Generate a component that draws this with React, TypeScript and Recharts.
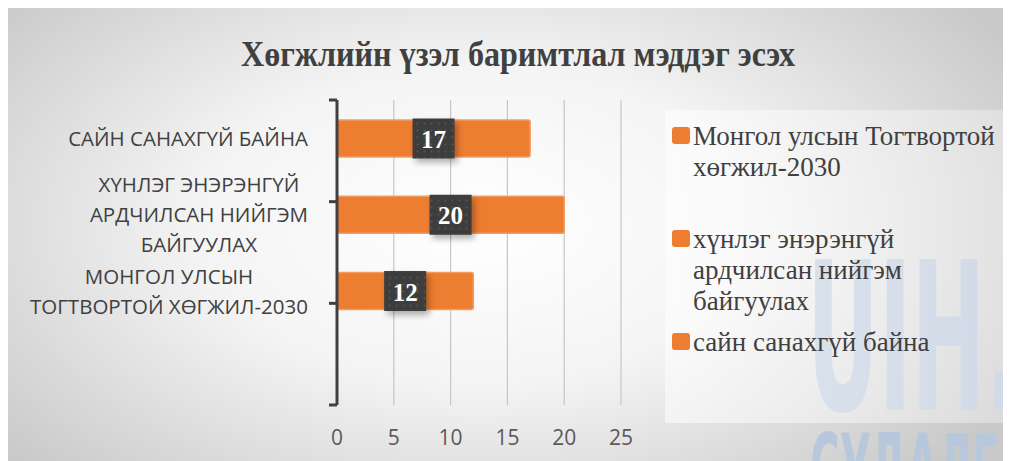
import { BarChart, Bar, XAxis, YAxis, CartesianGrid, LabelList, Legend } from 'recharts';

// ─── Data ───────────────────────────────────────────────────────────
const categories = [
  'САЙН САНАХГҮЙ БАЙНА',
  'ХҮНЛЭГ ЭНЭРЭНГҮЙ АРДЧИЛСАН НИЙГЭМ БАЙГУУЛАХ',
  'МОНГОЛ УЛСЫН ТОГТВОРТОЙ ХӨГЖИЛ-2030',
  ' ',
];
const categoryLines = [
  ['САЙН САНАХГҮЙ БАЙНА'],
  ['ХҮНЛЭГ ЭНЭРЭНГҮЙ', 'АРДЧИЛСАН НИЙГЭМ', 'БАЙГУУЛАХ'],
  ['МОНГОЛ УЛСЫН', 'ТОГТВОРТОЙ ХӨГЖИЛ-2030'],
  [],
];
const values: (number | null)[] = [17, 20, 12, null];
const legendLines = [
  ['Монгол улсын Тогтвортой', 'хөгжил-2030'],
  ['хүнлэг энэрэнгүй', 'ардчилсан нийгэм', 'байгуулах'],
  ['сайн санахгүй байна'],
];
const xTicks = [0, 5, 10, 15, 20, 25];
const edgeTicks = [0, 1, 2, 3, 4];

const data = categories.map((name, i) => ({ name, value: values[i] }));

const ORANGE = '#ED7D31';
const DARK = '#404040';
const SANS = '"Open Sans", sans-serif';
const SERIF = '"Liberation Serif", "Times New Roman", serif';
const LABEL_SIZE = 20.5;

let measureCtx: CanvasRenderingContext2D | null = null;
function textWidth(s: string, font: string) {
  if (!measureCtx) measureCtx = document.createElement('canvas').getContext('2d');
  if (!measureCtx) return s.length * 10;
  measureCtx.font = font;
  return measureCtx.measureText(s).width;
}

// ─── Axis ticks ─────────────────────────────────────────────────────
function CategoryTick(props: any) {
  const { x, y, payload } = props;
  const idx = categories.indexOf(payload.value);
  const lines = categoryLines[idx] ?? [];
  if (!lines.length) return null;
  const font = `${LABEL_SIZE}px ${SANS}`;
  const maxW = Math.max(...lines.map((l) => textWidth(l, font)));
  const cx = x - maxW / 2;
  const lh = 30;
  const top = y - ((lines.length - 1) * lh) / 2;
  return (
    <text fill={DARK} fontSize={LABEL_SIZE} fontFamily={SANS} textAnchor="middle">
      {lines.map((l, i) => (
        <tspan key={i} x={cx} y={top + i * lh} dominantBaseline="central">
          {l}
        </tspan>
      ))}
    </text>
  );
}

function ValueTick(props: any) {
  const { x, y, payload } = props;
  return (
    <text x={x} y={y + 32} fill="#595959" fontSize={21} fontFamily={SANS} textAnchor="middle" dominantBaseline="central">
      {payload.value}
    </text>
  );
}

// tick marks only, no text
const NoLabel = () => <g />;

// ─── Data label badge ───────────────────────────────────────────────
function ValueBadge(props: any) {
  const { x, y, width, height, value } = props;
  if (value == null) return null;
  const cx = Number(x) + Number(width) / 2;
  const cy = Number(y) + Number(height) / 2;
  const w = 42;
  const h = 40;
  return (
    <g>
      <rect x={cx - w / 2 + 3} y={cy - h / 2 + 4} width={w} height={h} fill="#000" opacity={0.3} filter="url(#badgeBlur)" />
      <rect x={cx - w / 2} y={cy - h / 2} width={w} height={h} fill="url(#badgeDots)" />
      <text x={cx} y={cy + 1} fill="#fff" fontSize={25} fontWeight="bold" fontFamily={SERIF} textAnchor="middle" dominantBaseline="central">
        {value}
      </text>
    </g>
  );
}

// ─── Legend ─────────────────────────────────────────────────────────
function LegendBox() {
  return (
    <div
      style={{
        width: 346,
        height: 313,
        position: 'relative',
        background: 'linear-gradient(90deg, rgba(255,255,255,0.55), rgba(245,245,245,0.4))',
        fontFamily: SERIF,
        fontSize: 27,
        color: DARK,
      }}
    >
      {legendLines.map((lines, i) => (
        <div key={i} style={{ position: 'absolute', left: 7, top: 11 + i * 103, display: 'flex' }}>
          <div style={{ width: 18, height: 17, marginTop: 6, background: ORANGE, borderRadius: 3, flexShrink: 0 }} />
          <div style={{ marginLeft: 3, lineHeight: '31px', whiteSpace: 'nowrap' }}>
            {lines.map((l) => (
              <div key={l}>{l}</div>
            ))}
          </div>
        </div>
      ))}
    </div>
  );
}

// ─── Component ──────────────────────────────────────────────────────
export default function App() {
  return (
    <div
      style={{
        position: 'relative',
        width: 1003,
        height: 453,
        background: 'radial-gradient(ellipse 62% 78% at 47% 48%, #ffffff 0%, #f4f4f4 45%, #c9c9c9 100%)',
        overflow: 'hidden',
      }}
    >
      {/* watermark + shared defs */}
      <svg width={1003} height={453} style={{ position: 'absolute', left: 0, top: 0 }}>
        <defs>
          <filter id="badgeBlur" x="-30%" y="-30%" width="160%" height="160%">
            <feGaussianBlur stdDeviation="3" />
          </filter>
          <pattern id="badgeDots" width="7" height="7" patternUnits="userSpaceOnUse">
            <rect width="7" height="7" fill="#3d3d3d" />
            <circle cx="3.5" cy="3.5" r="0.9" fill="#585858" />
          </pattern>
        </defs>
        <text x={799} y={402} fill="#b8c8dc" fontSize={206} fontWeight="bold" fontFamily='"DejaVu Sans Condensed", "DejaVu Sans", sans-serif' textLength={212} lengthAdjust="spacingAndGlyphs">
          UIH.
        </text>
        <text x={802} y={491} fill="#b8c8dc" fontSize={90} fontWeight="bold" fontFamily='"DejaVu Sans Condensed", "DejaVu Sans", sans-serif' textLength={250} lengthAdjust="spacingAndGlyphs">
          СУДАЛГАА
        </text>
      </svg>

      <BarChart
        width={1003}
        height={453}
        data={data}
        layout="vertical"
        margin={{ top: 92, right: 390, bottom: 0, left: 0 }}
        barSize={37}
      >
        <CartesianGrid horizontal={false} stroke="#c6c6c6" strokeWidth={1.2} yAxisId="b" />
        <XAxis
          type="number"
          domain={[0, 25]}
          ticks={xTicks}
          axisLine={false}
          tickLine={false}
          tickSize={0}
          tickMargin={0}
          height={56}
          tick={<ValueTick />}
          interval={0}
        />
        {/* boundary ticks on the axis line, as in the original */}
        <YAxis
          yAxisId="a"
          type="number"
          domain={[0, 4]}
          ticks={edgeTicks}
          interval={0}
          width={1}
          tick={NoLabel}
          tickSize={8}
          axisLine={{ stroke: DARK, strokeWidth: 3 }}
          tickLine={{ stroke: DARK, strokeWidth: 3 }}
        />
        <YAxis
          yAxisId="b"
          type="category"
          dataKey="name"
          width={328}
          axisLine={false}
          tickLine={false}
          tickSize={0}
          tickMargin={28}
          interval={0}
          tick={<CategoryTick />}
        />
        <Legend
          layout="vertical"
          align="center"
          verticalAlign="middle"
          wrapperStyle={{ left: 657, top: 102, width: 346, height: 313 }}
          content={<LegendBox />}
        />
        <Bar yAxisId="b" dataKey="value" fill={ORANGE} stroke="#F39C62" strokeWidth={1.5} radius={2} isAnimationActive={false}>
          <LabelList dataKey="value" content={<ValueBadge />} />
        </Bar>
      </BarChart>

      {/* title */}
      <svg width={1003} height={80} style={{ position: 'absolute', left: 0, top: 0, pointerEvents: 'none' }}>
        <text x={233} y={58} fill={DARK} fontSize={36} fontWeight="bold" fontFamily={SERIF} textLength={554} lengthAdjust="spacingAndGlyphs">
          Хөгжлийн үзэл баримтлал мэддэг эсэх
        </text>
      </svg>
    </div>
  );
}
